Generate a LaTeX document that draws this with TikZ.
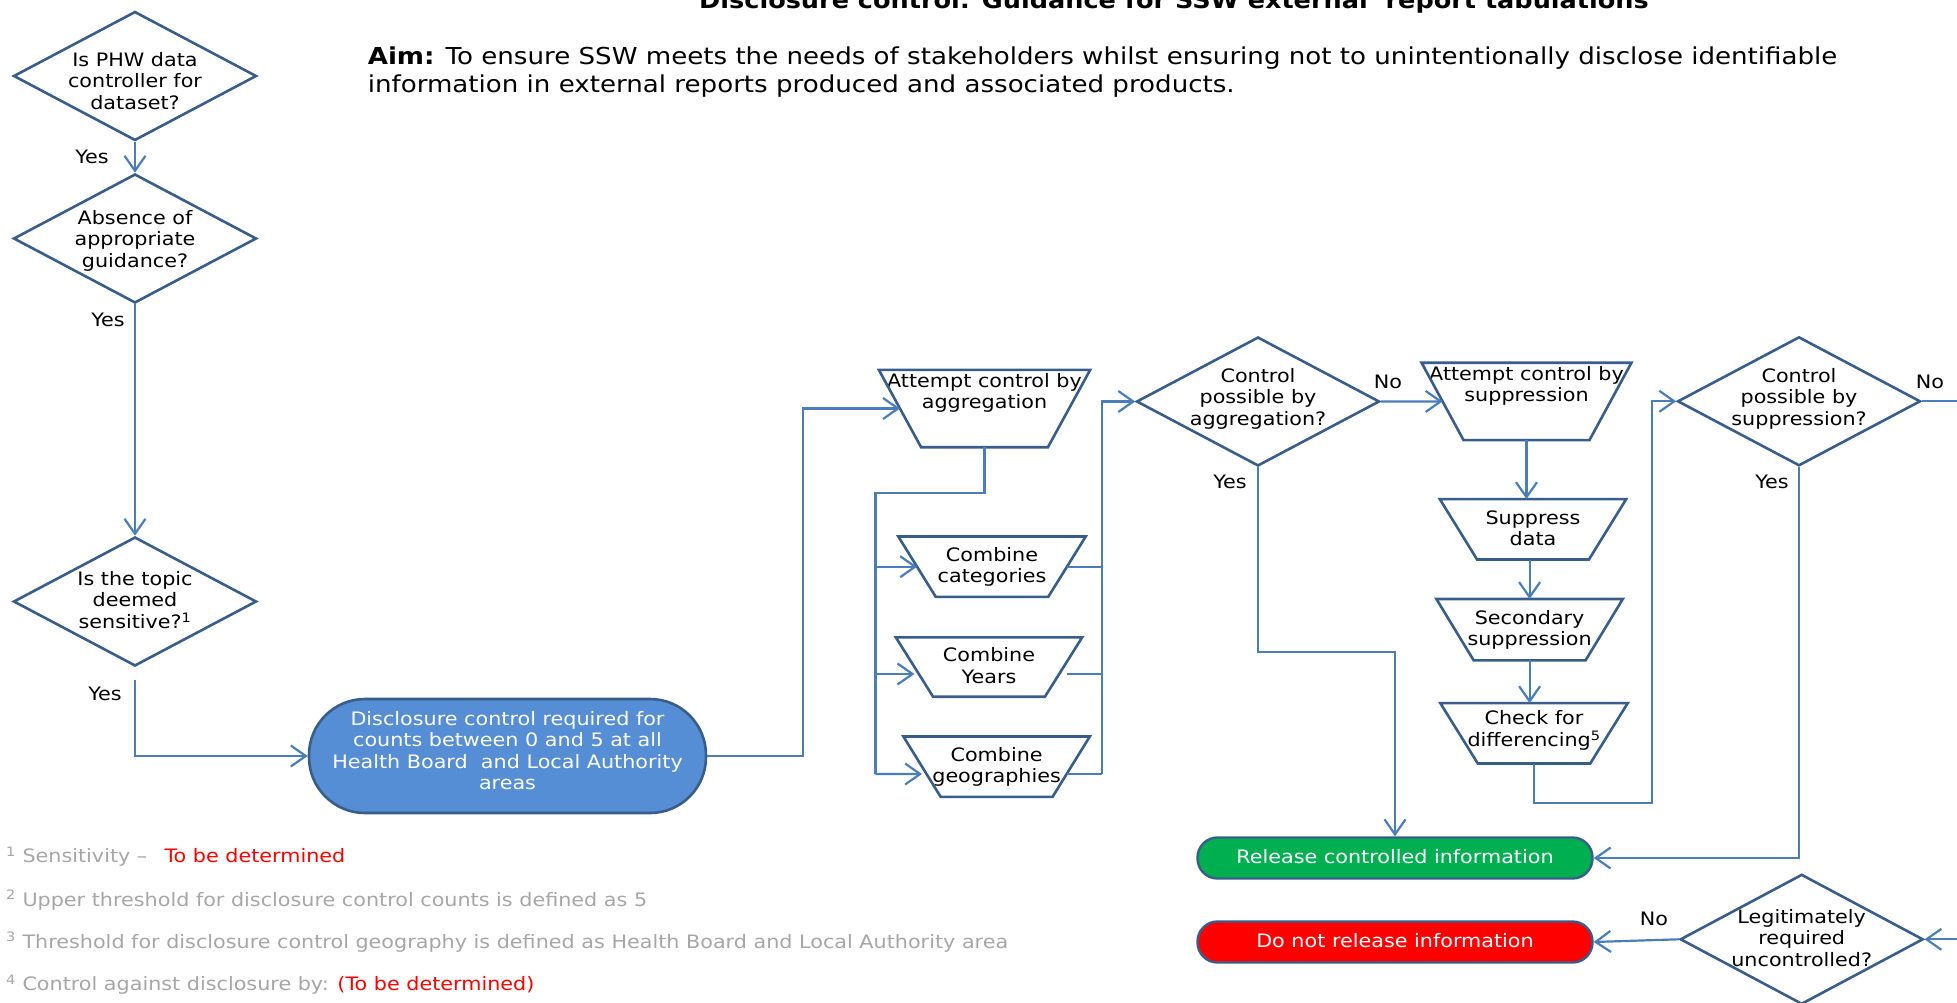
\documentclass[tikz,border=0pt]{standalone}
\usepackage{fontspec}
\setmainfont{DejaVu Sans}[FakeStretch=1.12]
\usetikzlibrary{shapes.geometric,arrows.meta,calc}
\definecolor{shapeblue}{HTML}{385D8A}
\definecolor{connblue}{HTML}{4A7EBB}
\definecolor{boxblue}{HTML}{558ED5}
\definecolor{relgreen}{HTML}{00B050}
\definecolor{norel}{HTML}{FF0000}
\definecolor{notegray}{HTML}{A6A6A6}
\newcommand\zbox[2][0pt]{\makebox[0pt]{\raisebox{\dimexpr#1-5.5pt\relax}[0pt][0pt]{\begin{tabular}{@{}c@{}}#2\end{tabular}}}}
\newcommand\trapout[1]{\draw[trapline] (#1.north west) -- (#1.north east) -- ($(#1.south east)!0.2!(#1.south west)$) -- ($(#1.south west)!0.2!(#1.south east)$) -- cycle;}
\begin{document}
\begin{tikzpicture}[x=1pt,y=-1pt,
  txt/.style={font=\fontsize{18.5}{21.5}\selectfont},
  decision/.style={diamond, draw=shapeblue, line width=2.6pt, inner sep=0pt, minimum width=243pt, minimum height=129pt, txt},
  trapbox/.style={rectangle, inner sep=0pt, txt},
  trapline/.style={draw=shapeblue, line width=2.6pt, line join=miter},
  startbox/.style={rectangle, rounded corners=56pt, fill=boxblue, draw=shapeblue, line width=2.6pt, minimum width=397pt, minimum height=114pt, inner sep=0pt, text=white, txt},
  endbox/.style={rectangle, rounded corners=20pt, draw=shapeblue, line width=2.4pt, minimum width=395pt, minimum height=41pt, inner sep=0pt, text=white, txt},
  conn/.style={draw=connblue, line width=2.2pt, -{Straight Barb[length=15pt,width=21pt]}},
  link/.style={draw=connblue, line width=2.2pt},
  note/.style={anchor=west, inner sep=0pt, text=notegray, font=\fontsize{18.5}{21}\selectfont},
  lbl/.style={txt, inner sep=0pt}
]
\useasboundingbox (0,0) rectangle (1957,1002);

% title and aim
\node[font=\fontsize{22.8}{26}\selectfont\bfseries, anchor=base, inner sep=0pt] (title) at (1174,8) {Disclosure control: Guidance for SSW external~ report tabulations};
\node[anchor=west, align=left, inner sep=0pt, font=\fontsize{23.3}{27.5}\selectfont] (aim) at (367.6,72) {\textbf{Aim:} To ensure SSW meets the needs of stakeholders whilst ensuring not to unintentionally disclose identifiable\\information in external reports produced and associated products.};

% decisions
\node[decision] (d1) at (135,76) {\zbox[-6.5pt]{Is PHW data\\controller for\\dataset?}};
\node[decision] (d2) at (135,238.5) {\zbox[-2pt]{Absence of\\appropriate\\guidance?}};
\node[decision] (d3) at (135,601.5) {\zbox{Is the topic\\deemed\\sensitive?\textsuperscript{1}}};
\node[startbox] (b) at (507.5,756) {\zbox[4pt]{Disclosure control required for\\counts between 0 and 5 at all\\Health Board~ and Local Authority\\areas}};

% aggregation branch
\node[trapbox, minimum width=211pt, minimum height=77pt] (t1) at (984.5,408.5) {\zbox[16pt]{Attempt control by\\aggregation}};
\node[trapbox, minimum width=187pt, minimum height=60pt] (t2) at (992,566.7) {\zbox{Combine\\categories}};
\node[trapbox, minimum width=186pt, minimum height=59pt] (t3) at (989,667) {\zbox{Combine\\Years}};
\node[trapbox, minimum width=186pt, minimum height=60pt] (t4) at (996.6,766.7) {\zbox{Combine\\geographies}};
\node[decision] (d4) at (1258,401.5) {\zbox[3pt]{Control\\possible by\\aggregation?}};

% suppression branch
\node[trapbox, minimum width=209.5pt, minimum height=77pt] (t5) at (1526.5,401.4) {\zbox[16pt]{Attempt control by\\suppression}};
\node[trapbox, minimum width=186pt, minimum height=60pt] (t6) at (1533,529.3) {\zbox{Suppress\\data}};
\node[trapbox, minimum width=186pt, minimum height=61pt] (t7) at (1529.6,629.7) {\zbox{Secondary\\suppression}};
\node[trapbox, minimum width=187pt, minimum height=60pt] (t8) at (1534,733.3) {\zbox[3pt]{Check for\\differencing\textsuperscript{5}}};
\node[decision] (d5) at (1799,401.3) {\zbox[3pt]{Control\\possible by\\suppression?}};

% outcomes
\node[endbox, fill=relgreen] (rel) at (1395,858) {\zbox{Release controlled information}};
\node[endbox, fill=norel] (nrel) at (1395,942) {\zbox{Do not release information}};
\node[decision, minimum height=130pt] (d6) at (1801.7,939.3) {\zbox{Legitimately\\required\\uncontrolled?}};

\trapout{t1}\trapout{t2}\trapout{t3}\trapout{t4}
\trapout{t5}\trapout{t6}\trapout{t7}\trapout{t8}

% labels
\node[lbl] (l1) at (92,157) {Yes};
\node[lbl] (l2) at (108,320) {Yes};
\node[lbl] (l3) at (105,694) {Yes};
\node[lbl] (l4) at (1388,382) {No};
\node[lbl] (l5) at (1230,482) {Yes};
\node[lbl] (l6) at (1930,382) {No};
\node[lbl] (l7) at (1772,482) {Yes};
\node[lbl] (l8) at (1654,919) {No};

% coordinates
\coordinate (busT) at (875.4,492.7);
\coordinate (busB) at (875.4,774);
\coordinate (busR) at (1102,774);
\coordinate (t1l) at ($(t1.west)!0.1!(t1.east)$);
\coordinate (t2l) at ($(t2.west)!0.1!(t2.east)$);
\coordinate (t2r) at ($(t2.east)!0.1!(t2.west)$);
\coordinate (t3l) at ($(t3.west)!0.1!(t3.east)+(0,7)$);
\coordinate (t4l) at ($(t4.west)!0.1!(t4.east)+(0,7.3)$);
\coordinate (t3out) at (1066.5,674);
\coordinate (t4out) at (1067,774);
\coordinate (t5l) at ($(t5.west)!0.1!(t5.east)$);
\coordinate (c8) at (1651.8,802.7);
\coordinate (outR) at (1962,401.3);
\coordinate (inR) at (1962,939.3);

% connectors
\draw[conn] (d1.south) -- (d2.north);
\draw[conn] (d2.south) -- (d3.north);
\draw[conn] ([yshift=-13pt]d3.south) |- (b.west);
\draw[conn] (b.east) -- ++(96,0) |- (t1l);
\draw[link] (t1.south) |- (busT) -- (busB);
\draw[conn] (busT |- t2l) -- (t2l);
\draw[conn] (busT |- t3l) -- (t3l);
\draw[conn] (busB) -- (t4l);
\draw[link] (t2r) -- (t2r -| busR);
\draw[link] (t3out) -- (t3out -| busR);
\draw[link] (t4out) -- (busR);
\draw[conn] (busR) |- (d4.west);
\draw[conn] (d4.east) -- (t5l);
\draw[conn] (d4.south) -- ++(0,185) -| (rel.north);
\draw[conn] (t5.south) -- (t5.south |- t6.north);
\draw[conn] (t6.south -| t7.north) -- (t7.north);
\draw[conn] (t7.south) -- (t7.south |- t8.north);
\draw[conn] (t8.south) |- (c8) |- (d5.west);
\draw[link] (d5.east) -- (d5.east -| outR);
\draw[conn] (d5.south) |- (rel.east);
\draw[conn] (inR) -- (d6.east);
\draw[conn] (d6.west) -- (nrel.east);

% footnotes
\node[note] (f1) at (6,857) {\textsuperscript{1} Sensitivity –~\hspace{4pt} \textcolor{norel}{To be determined}};
\node[note] (f2) at (6,900) {\textsuperscript{2} Upper threshold for disclosure control counts is defined as 5};
\node[note] (f3) at (6,942) {\textsuperscript{3} Threshold for disclosure control geography is defined as Health Board and Local Authority area};
\node[note] (f4) at (6,985) {\textsuperscript{4} Control against disclosure by: \textcolor{norel}{(To be determined)}};
\end{tikzpicture}
\end{document}
